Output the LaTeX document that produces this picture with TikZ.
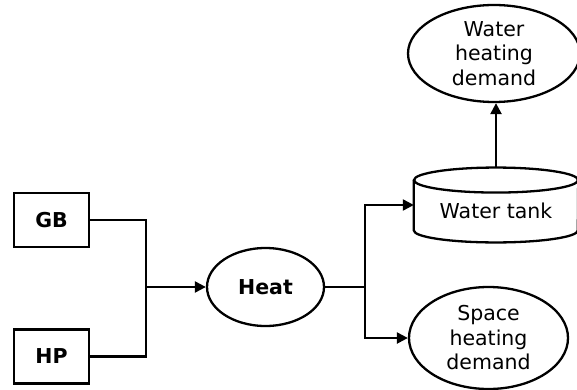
\documentclass[tikz,border=0pt]{standalone}
\usepackage{fontspec}
\setmainfont{DejaVu Sans}
\usetikzlibrary{shapes.geometric,arrows.meta}
\begin{document}
\begin{tikzpicture}[x=1pt,y=-1pt,
  txt/.style={font=\fontsize{20.5}{24.5}\selectfont, inner sep=0pt},
  box/.style={draw, line width=2.3pt, minimum width=75pt, minimum height=54pt, inner sep=0pt, font=\fontsize{20.5}{24.5}\selectfont\bfseries},
  oval/.style={draw, ellipse, line width=2.3pt, inner sep=0pt},
  conn/.style={line width=2.3pt},
  arr/.style={conn, -{Triangle[length=11pt,width=11pt]}}
]
\useasboundingbox (0,0) rectangle (577,390);
\node[box] (GB) at (51.5,220) {GB};
\node[box] (HP) at (51.5,356.5) {HP};
\node[oval, minimum width=117pt, minimum height=78pt, font=\fontsize{20.5}{24.5}\selectfont\bfseries] (Heat) at (265.5,287) {Heat};
\node[minimum width=164pt, minimum height=74.5pt, inner sep=0pt,
  label={[txt, yshift=-6.2pt]center:Water tank}] (tank) at (496,205) {};
\draw[conn] ([yshift=-12.5pt]tank.north west) -- ([yshift=12pt]tank.south west)
  arc[start angle=180, end angle=360, x radius=82pt, y radius=12pt]
  -- ([yshift=-12.5pt]tank.north east);
\draw[conn] ([yshift=-12.5pt]tank.north) ellipse [x radius=82pt, y radius=12.5pt];
\node[oval, minimum width=172pt, minimum height=97pt,
  label={[txt, align=center]center:Water\\heating\\demand}] (wh) at (494,53.5) {};
\node[oval, minimum width=159pt, minimum height=102pt,
  label={[txt, align=center]center:Space\\heating\\demand}] (sh) at (488.5,338) {};
\coordinate (jL) at (146,287);
\coordinate (jR) at (365,287);
\draw[conn] (GB.east) -| (jL);
\draw[conn] (HP.east) -| (jL);
\draw[arr] (jL) -- (Heat.west);
\draw[conn] (Heat.east) -- (jR);
\draw[arr] (jR) |- (tank.west);
\draw[arr] (jR) |- (sh.west);
\draw[arr] (tank.north) -- (tank.north |- wh.south);
\end{tikzpicture}
\end{document}
